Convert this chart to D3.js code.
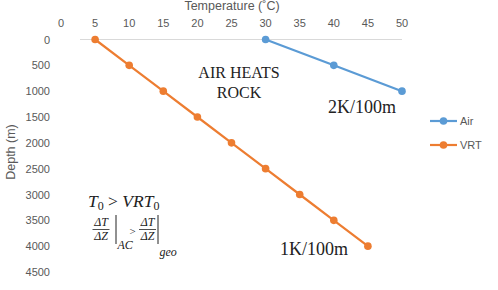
<!DOCTYPE html>
<html>
<head>
<meta charset="utf-8">
<script src="https://cdn.jsdelivr.net/npm/d3@7"></script>
<style>
  body { margin: 0; background: #fff; }
  svg { display: block; }
  .tick-label { font-family: "Liberation Sans", Arial, sans-serif; font-size: 11px; fill: #595959; }
  .note { font-family: "Liberation Serif", "DejaVu Serif", serif; fill: #222; }
</style>
</head>
<body>
<svg id="chart" width="498" height="290"></svg>
<script>
// Data
const airTemp  = [30, 40, 50];
const airDepth = [0, 500, 1000];
const vrtTemp  = [5, 10, 15, 20, 25, 30, 35, 40, 45];
const vrtDepth = [0, 500, 1000, 1500, 2000, 2500, 3000, 3500, 4000];
const xTicks = [0, 5, 10, 15, 20, 25, 30, 35, 40, 45, 50];
const yTicks = [0, 500, 1000, 1500, 2000, 2500, 3000, 3500, 4000, 4500];
const seriesNames = ['Air', 'VRT'];
const COLORS = ['#5b9bd5', '#ed7d31'];

const svg = d3.select('#chart');

const x = d3.scaleLinear().domain([0, 50]).range([61, 402]);
const y = d3.scaleLinear().domain([0, 4500]).range([39.5, 272]);

// Axis line at depth 0 (plot area starts a bit right of the 0 label)
svg.append('line')
    .attr('x1', 80).attr('x2', x(50))
    .attr('y1', y(0)).attr('y2', y(0))
    .attr('stroke', '#d9d9d9').attr('stroke-width', 1);

// Top axis tick labels
svg.append('g').selectAll('text').data(xTicks).join('text')
    .attr('class', 'tick-label')
    .attr('x', d => x(d)).attr('y', 27)
    .attr('text-anchor', 'middle')
    .text(d => d);

// Left axis tick labels
svg.append('g').selectAll('text').data(yTicks).join('text')
    .attr('class', 'tick-label')
    .attr('x', 50).attr('y', d => y(d) + 4)
    .attr('text-anchor', 'end')
    .text(d => d);

// Axis titles
svg.append('text')
    .attr('class', 'tick-label').style('font-size', '12.5px')
    .attr('x', 232).attr('y', 10)
    .attr('text-anchor', 'middle')
    .text('Temperature (˚C)');

svg.append('text')
    .attr('class', 'tick-label').style('font-size', '12.5px')
    .attr('transform', 'translate(15,152) rotate(-90)')
    .attr('text-anchor', 'middle')
    .text('Depth (m)');

// Series
const series = [
    { name: seriesNames[0], pts: airTemp.map((t, i) => [t, airDepth[i]]) },
    { name: seriesNames[1], pts: vrtTemp.map((t, i) => [t, vrtDepth[i]]) }
];
const line = d3.line().x(d => x(d[0])).y(d => y(d[1]));

series.forEach((s, i) => {
    svg.append('path')
        .attr('d', line(s.pts))
        .attr('fill', 'none')
        .attr('stroke', COLORS[i]).attr('stroke-width', 2.2);
    svg.append('g').selectAll('circle').data(s.pts).join('circle')
        .attr('cx', d => x(d[0])).attr('cy', d => y(d[1]))
        .attr('r', 3.8)
        .attr('fill', COLORS[i]);
});

// Legend
const legend = svg.append('g');
seriesNames.forEach((n, i) => {
    const ly = 121 + i * 24;
    legend.append('line')
        .attr('x1', 430).attr('x2', 457).attr('y1', ly).attr('y2', ly)
        .attr('stroke', COLORS[i]).attr('stroke-width', 2.2);
    legend.append('circle')
        .attr('cx', 443.5).attr('cy', ly).attr('r', 3.8)
        .attr('fill', COLORS[i]);
    legend.append('text')
        .attr('class', 'tick-label')
        .attr('x', 460).attr('y', ly + 4)
        .text(n);
});

// Annotations
const notes = svg.append('g').attr('class', 'note');
notes.append('text').attr('x', 239).attr('y', 78).attr('text-anchor', 'middle')
    .style('font-size', '16px').text('AIR HEATS');
notes.append('text').attr('x', 239).attr('y', 98).attr('text-anchor', 'middle')
    .style('font-size', '16px').text('ROCK');
notes.append('text').attr('x', 362).attr('y', 113).attr('text-anchor', 'middle')
    .style('font-size', '18px').text('2K/100m');
notes.append('text').attr('x', 314).attr('y', 255).attr('text-anchor', 'middle')
    .style('font-size', '18px').text('1K/100m');

// T0 > VRT0
const t0 = notes.append('text').attr('x', 88).attr('y', 207)
    .style('font-size', '17.5px').style('font-style', 'italic');
t0.append('tspan').text('T');
t0.append('tspan').attr('dy', 3).style('font-size', '12px').style('font-style', 'normal').text('0');
t0.append('tspan').attr('dy', -3).style('font-style', 'normal').text(' > ');
t0.append('tspan').text('VRT');
t0.append('tspan').attr('dy', 3).style('font-size', '12px').style('font-style', 'normal').text('0');

// gradient inequality
function fraction(g, cx, sub, barX, subY) {
    g.append('text').attr('x', cx).attr('y', 226).attr('text-anchor', 'middle')
        .style('font-size', '12px').style('font-style', 'italic').text('ΔT');
    g.append('text').attr('x', cx).attr('y', 240).attr('text-anchor', 'middle')
        .style('font-size', '12px').style('font-style', 'italic').text('ΔZ');
    g.append('line').attr('x1', cx - 8.5).attr('x2', cx + 8.5).attr('y1', 229.5).attr('y2', 229.5)
        .attr('stroke', '#222').attr('stroke-width', 0.8);
    g.append('line').attr('x1', barX).attr('x2', barX).attr('y1', 215).attr('y2', 244)
        .attr('stroke', '#222').attr('stroke-width', 1);
    g.append('text').attr('x', barX + 1.5).attr('y', subY)
        .style('font-size', '12px').style('font-style', 'italic').text(sub);
}
fraction(notes, 101, 'AC', 116, 249);
notes.append('text').attr('x', 129.5).attr('y', 235).style('font-size', '11px').text('>');
fraction(notes, 147.5, 'geo', 158, 256);
</script>
</body>
</html>
